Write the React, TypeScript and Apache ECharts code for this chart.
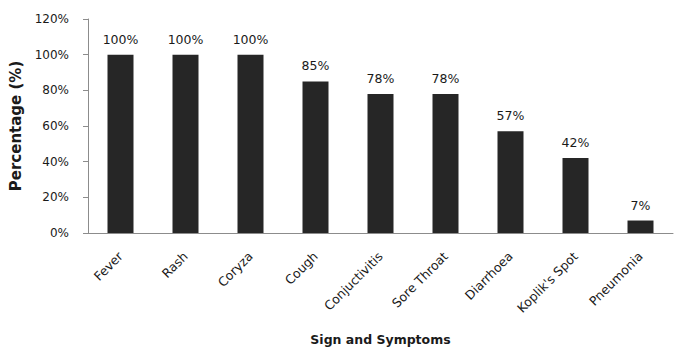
import React, { useEffect, useRef } from "react";
import * as echarts from "echarts";

const categories = [
  "Fever",
  "Rash",
  "Coryza",
  "Cough",
  "Conjuctivitis",
  "Sore Throat",
  "Diarrhoea",
  "Koplik's Spot",
  "Pneumonia",
];
const percentages = [100, 100, 100, 85, 78, 78, 57, 42, 7];
const yTicks = [0, 20, 40, 60, 80, 100, 120];

const FONT = "'DejaVu Sans', sans-serif";

export default function App() {
  const ref = useRef<HTMLDivElement>(null);

  useEffect(() => {
    if (!ref.current) return;
    const chart = echarts.init(ref.current, undefined, { renderer: "svg" });
    chart.setOption({
      animation: false,
      backgroundColor: "#ffffff",
      grid: { left: 88, right: 5, top: 19, bottom: 114, containLabel: false },
      xAxis: {
        type: "category",
        data: categories,
        name: "Sign and Symptoms",
        nameLocation: "middle",
        nameGap: 100,
        nameTextStyle: { fontFamily: FONT, fontSize: 12.5, fontWeight: "bold", color: "#1a1a1a" },
        axisLine: { lineStyle: { color: "#8c8c8c", width: 1 } },
        axisTick: { show: false },
        axisLabel: {
          rotate: 45,
          margin: 21,
          interval: 0,
          fontFamily: FONT,
          fontSize: 12.5,
          color: "#1a1a1a",
        },
      },
      yAxis: {
        type: "value",
        min: yTicks[0],
        max: yTicks[yTicks.length - 1],
        interval: 20,
        name: "Percentage (%)",
        nameLocation: "middle",
        nameGap: 63,
        nameTextStyle: { fontFamily: FONT, fontSize: 15, fontWeight: "bold", color: "#1a1a1a" },
        axisLine: { show: true, lineStyle: { color: "#8c8c8c", width: 1 } },
        axisTick: { show: true, length: 5, lineStyle: { color: "#8c8c8c" } },
        splitLine: { show: false },
        axisLabel: {
          fontFamily: FONT,
          fontSize: 12,
          color: "#1a1a1a",
          margin: 19,
          formatter: (v: number) => `${v}%`,
        },
      },
      series: [
        {
          type: "bar",
          data: percentages,
          barWidth: 26,
          itemStyle: { color: "#262626" },
          label: {
            show: true,
            position: "top",
            distance: 9,
            fontFamily: FONT,
            fontSize: 12.5,
            color: "#1a1a1a",
            formatter: (p: any) => `${p.value}%`,
          },
        },
      ],
    });
    return () => chart.dispose();
  }, []);

  return (
    <div
      ref={ref}
      style={{ position: "fixed", left: 0, top: 0, width: 678, height: 351 }}
    />
  );
}
